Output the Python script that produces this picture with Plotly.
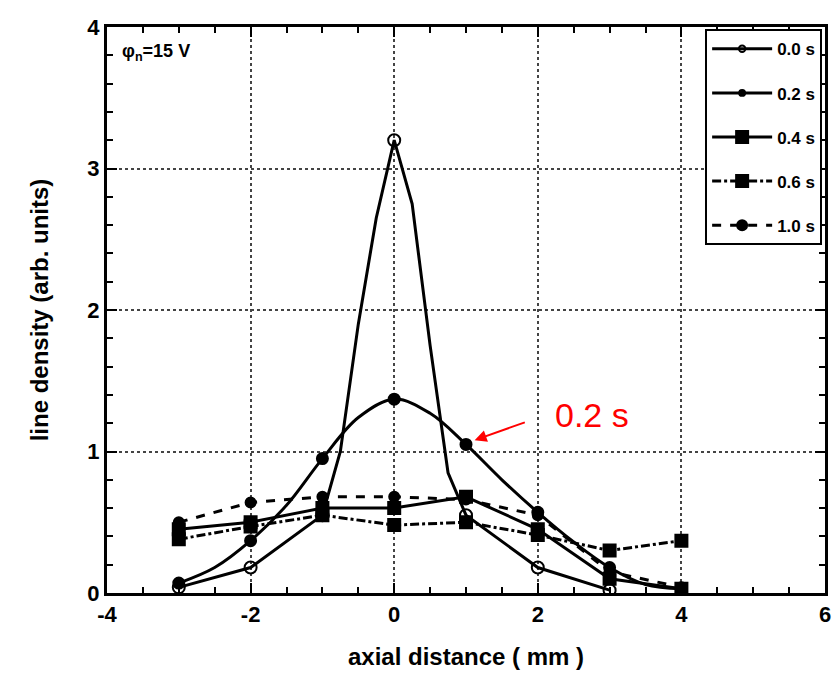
import plotly.graph_objects as go

# ---- data ----
x_t00 = [-3, -2, -1, -0.75, -0.5, -0.25, 0, 0.25, 0.5, 0.75, 1, 2, 3]
y_t00 = [0.04, 0.18, 0.55, 1.0, 1.9, 2.65, 3.2, 2.75, 1.75, 0.85, 0.55, 0.18, 0.02]

x_t02 = [-3, -2.5, -2, -1.5, -1, -0.5, 0, 0.5, 1, 1.5, 2, 2.5, 3, 3.5, 4]
y_t02 = [0.07, 0.18, 0.37, 0.62, 0.95, 1.24, 1.37, 1.27, 1.05, 0.8, 0.57, 0.36, 0.18, 0.06, 0.03]

x_t04 = [-3, -2, -1, 0, 1, 2, 3, 4]
y_t04 = [0.45, 0.5, 0.6, 0.6, 0.68, 0.45, 0.1, 0.03]

x_t06 = [-3, -2, -1, 0, 1, 2, 3, 4]
y_t06 = [0.38, 0.47, 0.55, 0.48, 0.5, 0.41, 0.3, 0.37]

x_t10 = [-3, -2, -1, 0, 1, 2, 3, 4]
y_t10 = [0.5, 0.64, 0.68, 0.68, 0.66, 0.55, 0.15, 0.04]

labels = ["0.0 s", "0.2 s", "0.4 s", "0.6 s", "1.0 s"]

x_ticks = [-4, -2, 0, 2, 4, 6]
x_ticktext = ["-4", "-2", "0", "2", "4", "6"]
y_ticks = [0, 1, 2, 3, 4]


def msizes(xs, size):
    return [size if float(v).is_integer() else 0 for v in xs]


fig = go.Figure()
series = [
    (x_t00, y_t00, labels[0], "circle-open", "solid", 12, "linear"),
    (x_t02, y_t02, labels[1], "circle", "solid", 11, "spline"),
    (x_t04, y_t04, labels[2], "square", "solid", 12, "linear"),
    (x_t06, y_t06, labels[3], "square", "dashdot", 12, "linear"),
    (x_t10, y_t10, labels[4], "circle", "dash", 10, "linear"),
]
for i, (xs, ys, name, sym, dash, sz, shape) in enumerate(series):
    fig.add_trace(go.Scatter(
        x=xs, y=ys, name=name, mode="lines+markers",
        line=dict(color="black", width=3, dash=dash, shape=shape),
        marker=dict(symbol=sym, size=msizes(xs, sz), color="black", opacity=1,
                    line=dict(color="black", width=2)),
        legendgroup=f"g{i}",
    ))

axis_common = dict(
    showline=True, linecolor="black", linewidth=3, mirror="ticks",
    ticks="inside", ticklen=10, tickwidth=2, tickcolor="black",
    showgrid=True, gridcolor="#444444", gridwidth=2, griddash="dot",
    zeroline=False,
    tickfont=dict(family="Liberation Sans", size=22, color="black", weight="bold"),
)

fig.update_xaxes(
    range=[-4, 6], tickvals=x_ticks, ticktext=x_ticktext,
    minor=dict(dtick=0.5, ticks="inside", ticklen=6, tickcolor="black", showgrid=False),
    title=dict(text="axial distance ( mm )",
               font=dict(family="Liberation Sans", size=24, color="black", weight="bold"),
               standoff=22),
    **axis_common,
)
fig.update_yaxes(
    range=[0, 4], tickvals=y_ticks,
    minor=dict(dtick=0.2, ticks="inside", ticklen=6, tickcolor="black", showgrid=False),
    title=dict(text="line density (arb. units)",
               font=dict(family="Liberation Sans", size=24, color="black", weight="bold"),
               standoff=32),
    **axis_common,
)

fig.add_annotation(x=-3.82, y=3.82, xref="x", yref="y", text="φ<sub>n</sub>=15 V",
                   showarrow=False, xanchor="left", yanchor="middle",
                   font=dict(family="Liberation Sans", size=18, color="black", weight="bold"))

fig.add_annotation(x=1.12, y=1.08, ax=1.84, ay=1.21, xref="x", yref="y",
                   axref="x", ayref="y", text="", showarrow=True,
                   arrowhead=2, arrowsize=1.2, arrowwidth=2, arrowcolor="red")
fig.add_annotation(x=2.76, y=1.26, xref="x", yref="y", text="0.2 s", showarrow=False,
                   font=dict(family="Liberation Sans", size=34, color="red"))

fig.update_layout(
    width=838, height=692,
    margin=dict(l=107, r=7, t=27, b=99),
    paper_bgcolor="white", plot_bgcolor="white",
    showlegend=True,
    legend=dict(x=0.996, y=0.996, xanchor="right", yanchor="top",
                bgcolor="white", bordercolor="black", borderwidth=2,
                traceorder="grouped", tracegroupgap=19, itemwidth=60,
                font=dict(family="Liberation Sans", size=17, color="black", weight="bold")),
)

fig.write_html("out.html")
